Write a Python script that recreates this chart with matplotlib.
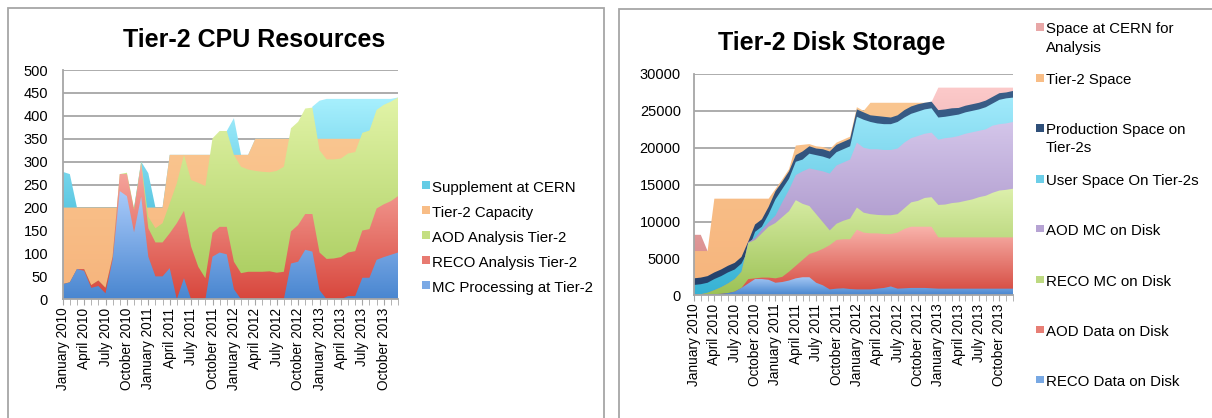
import numpy as np
import matplotlib
matplotlib.use('Agg')
import matplotlib.pyplot as plt
from matplotlib.colors import to_rgb
from matplotlib.patches import Rectangle, PathPatch

plt.rcParams['font.family'] = ['Liberation Sans', 'DejaVu Sans']

# x axis: one point per month, Jan 2010 .. Dec 2013, a label every 3 months
months = ['January', 'April', 'July', 'October']
years = [2010, 2011, 2012, 2013]
tick_labels = ['%s %d' % (m, y) for y in years for m in months]
x = np.arange(48)

# ---- Tier-2 CPU (overlapping areas, each value = top of that series' area)
cpu_supplement = [278, 273, 200, 200, 200, 200, 200, 200, 200, 200, 200, 300,
                  275, 200, 200, 315, 315, 315, 315, 315, 315, 315, 315, 367,
                  395, 315, 315, 350, 350, 350, 350, 350, 350, 350, 350, 420,
                  433, 437, 437, 437, 437, 437, 437, 437, 437, 437, 437, 440]
cpu_capacity = [200] * 15 + [315] * 12 + [350] * 21
cpu_aod = [33, 37, 66, 66, 31, 41, 25, 93, 273, 276, 198, 300,
           180, 155, 166, 209, 253, 315, 260, 254, 247, 351, 367, 367,
           315, 289, 283, 280, 278, 277, 280, 289, 373, 387, 416, 418,
           325, 305, 305, 307, 318, 321, 363, 368, 413, 424, 431, 440]
cpu_reco = [33, 37, 66, 66, 31, 41, 25, 93, 273, 273, 195, 297,
            155, 124, 124, 144, 166, 193, 115, 71, 46, 145, 158, 158,
            82, 57, 60, 60, 60, 61, 58, 60, 148, 162, 186, 186,
            102, 88, 89, 92, 102, 105, 150, 153, 198, 207, 214, 225]
cpu_mc = [33, 37, 66, 62, 25, 29, 13, 86, 236, 225, 146, 224,
          93, 50, 50, 68, 0, 46, 0, 0, 0, 93, 102, 98,
          22, 0, 0, 0, 0, 0, 0, 0, 78, 82, 108, 104,
          20, 0, 0, 0, 7, 7, 47, 47, 86, 92, 97, 102]
cpu_labels = ['Supplement at CERN', 'Tier-2 Capacity', 'AOD Analysis Tier-2',
              'RECO Analysis Tier-2', 'MC Processing at Tier-2']

# ---- Tier-2 disk (thousands, overlapping areas)
disk_cern = [8.2, 8.2, 6.0] + [0] * 32 + [26.2] + [28.15] * 12
disk_t2space = [6.0, 6.0, 6.0, 13.1, 13.1, 13.1, 13.1, 13.1, 13.1, 13.1, 13.1, 13.1,
                14.4, 15.7, 17.1, 20.3, 20.4, 20.5, 20.2, 20.1, 19.8, 20.7, 21.1, 21.5,
                25.5, 25.0, 26.1, 26.1, 26.1, 26.1, 26.1, 26.1, 26.1, 26.1, 26.1, 26.1] + [0] * 12
disk_prod = [2.3, 2.4, 2.6, 3.1, 3.5, 4.0, 4.4, 5.2, 7.3, 9.6, 10.3, 12.0,
             14.1, 15.4, 16.8, 19.0, 19.5, 20.2, 19.9, 19.8, 19.5, 20.4, 20.8, 21.2,
             25.2, 24.8, 24.4, 24.3, 24.2, 24.1, 24.4, 25.1, 25.6, 25.9, 26.1, 26.25,
             25.1, 25.2, 25.35, 25.4, 25.7, 25.9, 26.1, 26.4, 26.9, 27.4, 27.5, 27.7]
disk_user = [1.4, 1.5, 1.7, 2.2, 2.6, 3.1, 3.5, 4.3, 6.1, 8.6, 9.3, 11.0,
             13.0, 14.4, 15.8, 18.1, 18.4, 19.2, 19.0, 18.8, 18.5, 19.4, 19.8, 20.2,
             24.2, 23.8, 23.5, 23.3, 23.2, 23.2, 23.5, 24.1, 24.6, 24.9, 25.2, 25.35,
             24.1, 24.2, 24.35, 24.5, 24.8, 25.0, 25.2, 25.5, 26.0, 26.5, 26.7, 26.8]
disk_aod_mc = [0.1, 0.15, 0.35, 0.7, 1.1, 1.6, 2.2, 3.2, 7.2, 7.8, 8.9, 9.9,
               10.8, 12.6, 14.3, 16.3, 16.8, 17.2, 17.0, 16.8, 16.5, 17.6, 18.0, 18.4,
               20.7, 20.0, 19.8, 19.8, 19.7, 19.7, 19.9, 20.7, 21.3, 21.6, 21.9, 22.05,
               21.1, 21.3, 21.4, 21.6, 21.9, 22.1, 22.3, 22.5, 23.0, 23.2, 23.3, 23.5]
disk_reco_mc = [0.1, 0.15, 0.35, 0.7, 1.1, 1.6, 2.2, 3.2, 7.1, 7.5, 8.4, 9.3,
                9.8, 10.6, 11.4, 12.9, 12.4, 12.1, 11.0, 9.9, 8.8, 9.7, 10.1, 10.4,
                11.9, 11.2, 11.0, 10.9, 10.85, 10.85, 11.0, 11.8, 12.6, 12.8, 13.2, 13.3,
                12.25, 12.3, 12.5, 12.6, 12.8, 13.0, 13.3, 13.5, 13.9, 14.2, 14.3, 14.45]
disk_aod_data = [0.05, 0.05, 0.1, 0.15, 0.2, 0.3, 0.5, 1.0, 2.2, 2.3, 2.4, 2.4,
                 2.3, 2.5, 3.2, 4.0, 4.8, 5.6, 5.9, 6.3, 6.8, 7.5, 7.6, 7.6,
                 8.9, 8.5, 8.4, 8.4, 8.3, 8.3, 8.5, 9.0, 9.3, 9.3, 9.3, 9.3] + [7.85] * 12
disk_reco_data = [0.05, 0.05, 0.1, 0.15, 0.2, 0.3, 0.5, 1.0, 1.6, 2.2, 2.2, 2.1,
                  1.7, 1.8, 2.0, 2.3, 2.45, 2.45, 1.7, 1.35, 0.8, 0.9, 0.95, 0.85,
                  0.8, 0.8, 0.8, 0.9, 1.0, 1.2, 0.9, 0.95, 1.0, 1.0, 1.0, 0.95] + [0.9] * 12
disk_labels = ['Space at CERN for\nAnalysis', 'Tier-2 Space', 'Production Space on\nTier-2s',
               'User Space On Tier-2s', 'AOD MC on Disk', 'RECO MC on Disk',
               'AOD Data on Disk', 'RECO Data on Disk']

# (top colour, bottom colour) of the gradient fills
cpu_colors = [('#a8f0fe', '#20a8cc'), ('#fac690', '#f6b47c'), ('#e2f4a8', '#a6ca5a'),
              ('#f8aca4', '#d8473d'), ('#aacbfa', '#4986d0')]
disk_colors = [('#fccaca', '#d48484'), ('#fac690', '#f6b47c'), ('#3a5e88', '#24406a'),
               ('#a2eafb', '#36b2d4'), ('#d4c6ea', '#9880bc'), ('#ddf0ac', '#9cc255'),
               ('#f9b4ac', '#d4473d'), ('#a8caf6', '#4886cf')]

W, H = 1212, 418
fig = plt.figure(figsize=(W / 100, H / 100), dpi=100)
gray = '#a6a6a6'


def grad_area(ax, y, c_top, c_bot, z):
    y = np.asarray(y, float)
    poly = ax.fill_between(x, 0, y, facecolor='none', edgecolor='none', zorder=z)
    patch = PathPatch(poly.get_paths()[0], facecolor='none', edgecolor='none',
                      transform=ax.transData)
    ax.add_patch(patch)
    t = np.linspace(0, 1, 256)[:, None, None]
    c0 = np.array(to_rgb(c_bot))
    c1 = np.array(to_rgb(c_top))
    img = c0 + (c1 - c0) * t
    im = ax.imshow(img, extent=[x[0], x[-1], 0, y.max()], origin='lower',
                   aspect='auto', zorder=z, interpolation='bilinear')
    im.set_clip_path(patch)


def setup(ax, ymax, ystep, pad):
    ax.set_xlim(0, 47)
    ax.set_ylim(0, ymax)
    ax.set_yticks(np.arange(0, ymax + 1, ystep))
    ax.set_xticks(np.arange(0, 48, 3))
    ax.set_xticklabels(tick_labels, rotation=90, fontsize=9.8)
    ax.set_xticks(np.arange(48), minor=True)
    ax.tick_params(axis='y', length=0, pad=pad, labelsize=10.5)
    ax.tick_params(axis='x', which='both', length=4, color=gray, pad=2)
    ax.grid(axis='y', color=gray, lw=1.3)
    ax.set_axisbelow(True)
    for s in ['top', 'right']:
        ax.spines[s].set_visible(False)
    for s in ['left', 'bottom']:
        ax.spines[s].set_color(gray)
        ax.spines[s].set_linewidth(1.3)
        ax.spines[s].set_zorder(20)


def px(x0, y0, w, h):
    return [x0 / W, 1 - (y0 + h) / H, w / W, h / H]


# panel frames
fig.patches.append(Rectangle((8 / W, -0.05), 596 / W, 1 - 8 / H + 0.05, transform=fig.transFigure,
                             fill=False, edgecolor=gray, lw=1.3))
fig.patches.append(Rectangle((619 / W, -0.05), 0.6, 1 - 9 / H + 0.05, transform=fig.transFigure,
                             fill=False, edgecolor=gray, lw=1.3))

# CPU chart
ax1 = fig.add_axes(px(62.7, 70, 335.3, 229.3))
cpu_series = [cpu_supplement, cpu_capacity, cpu_aod, cpu_reco, cpu_mc]
for k, (ser, (ct, cb)) in enumerate(zip(cpu_series, cpu_colors)):
    grad_area(ax1, ser, ct, cb, 2 + k)
setup(ax1, 500, 50, 10.5)
fig.text(254 / W, 1 - 40 / H, 'Tier-2 CPU Resources', ha='center', va='center',
         fontsize=18, fontweight='bold')

for k, (lab, (ct, cb)) in enumerate(zip(cpu_labels, cpu_colors)):
    yy = 188.3 + 25.0 * k
    mc = (np.array(to_rgb(ct)) + np.array(to_rgb(cb))) / 2
    fig.patches.append(Rectangle((421.7 / W, 1 - (yy + 1) / H), 8 / W, 8 / H,
                                 transform=fig.transFigure, facecolor=mc, edgecolor='none'))
    fig.text(432.5 / W, 1 - yy / H, lab, ha='left', va='center', fontsize=10.8)

# Disk chart
ax2 = fig.add_axes(px(694, 74, 319, 221.3))
disk_series = [disk_cern, disk_t2space, disk_prod, disk_user, disk_aod_mc,
               disk_reco_mc, disk_aod_data, disk_reco_data]
for k, (ser, (ct, cb)) in enumerate(zip(disk_series, disk_colors)):
    grad_area(ax2, np.array(ser) * 1000, ct, cb, 2 + k)
setup(ax2, 30000, 5000, 9.5)
fig.text(832 / W, 1 - 43 / H, 'Tier-2 Disk Storage', ha='center', va='center',
         fontsize=18, fontweight='bold')

disk_rows = [29.3, 80, 130, 181, 230.7, 281.7, 331.7, 381.7]
for lab, yy, (ct, cb) in zip(disk_labels, disk_rows, disk_colors):
    mc = (np.array(to_rgb(ct)) + np.array(to_rgb(cb))) / 2
    fig.patches.append(Rectangle((1036 / W, 1 - (yy + 1.5) / H), 7.5 / W, 7.5 / H,
                                 transform=fig.transFigure, facecolor=mc, edgecolor='none'))
    for j, line in enumerate(lab.split('\n')):
        fig.text(1046 / W, 1 - (yy + 18.3 * j) / H, line, ha='left', va='center',
                 fontsize=10.8)

fig.savefig('out.png', dpi=100)
